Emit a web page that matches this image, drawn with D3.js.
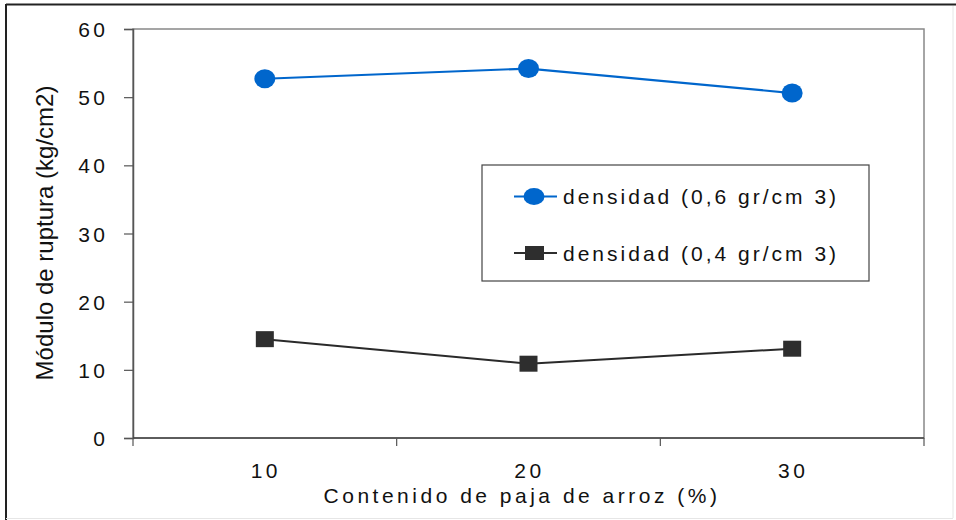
<!DOCTYPE html>
<html>
<head>
<meta charset="utf-8">
<script src="https://cdn.jsdelivr.net/npm/d3@7"></script>
<style>
  html, body { margin: 0; padding: 0; background: #fff; }
  svg { display: block; font-family: "Liberation Sans", Arial, sans-serif; }
</style>
</head>
<body>
<svg id="chart" width="956" height="520"></svg>
<script>
const categories = ["10", "20", "30"];
const seriesNames = ["densidad (0,6 gr/cm 3)", "densidad (0,4 gr/cm 3)"];
const highDensity = [52.7, 54.2, 50.6];
const lowDensity = [14.5, 10.9, 13.1];
const yTicks = [0, 10, 20, 30, 40, 50, 60];
const yTitle = "Módulo de ruptura (kg/cm2)";
const xTitle = "Contenido de paja de arroz (%)";

const svg = d3.select("#chart");
const m = { left: 133, top: 29, right: 924, bottom: 438 };
const FONT = "Liberation Sans, Arial, sans-serif";

// outer frame
svg.append("line").attr("x1", 6).attr("y1", 4.5).attr("x2", 956).attr("y2", 4.5).attr("stroke", "#222").attr("stroke-width", 2);
svg.append("line").attr("x1", 6).attr("y1", 4).attr("x2", 6).attr("y2", 520).attr("stroke", "#222").attr("stroke-width", 2);
svg.append("line").attr("x1", 953).attr("y1", 6).attr("x2", 953).attr("y2", 518).attr("stroke", "#e6e6e6").attr("stroke-width", 1);
svg.append("line").attr("x1", 6).attr("y1", 518.5).attr("x2", 953).attr("y2", 518.5).attr("stroke", "#e6e6e6").attr("stroke-width", 1);

const x = d3.scaleBand().domain(categories).range([m.left, m.right]).padding(0);
const y = d3.scaleLinear().domain([0, 60]).range([m.bottom, m.top]);

// plot area border
svg.append("rect").attr("x", m.left).attr("y", m.top).attr("width", m.right - m.left).attr("height", m.bottom - m.top)
  .attr("fill", "none").attr("stroke", "#888").attr("stroke-width", 1.5);

// y axis
const yAxis = svg.append("g").attr("transform", `translate(${m.left},0)`)
  .call(d3.axisLeft(y).tickValues(yTicks).tickSize(9).tickPadding(15.5).tickFormat(d3.format("d")));
yAxis.attr("font-size", 21).attr("font-family", FONT);
yAxis.select(".domain").attr("stroke", "#555").attr("stroke-width", 1.5);
yAxis.selectAll(".tick line").attr("stroke", "#555").attr("stroke-width", 1.2);
yAxis.selectAll(".tick text").attr("font-size", 21).attr("fill", "#111").attr("letter-spacing", 3.5).attr("dy", "0.36em");

// x axis with ticks at category boundaries
const boundaries = categories.map(c => x(c)).concat([x(categories[categories.length - 1]) + x.bandwidth()]);
const xAxisG = svg.append("g").attr("transform", `translate(0,${m.bottom})`);
xAxisG.append("line").attr("x1", m.left).attr("x2", m.right).attr("stroke", "#444").attr("stroke-width", 1.5);
xAxisG.selectAll("line.tk").data(boundaries).enter().append("line").attr("class", "tk")
  .attr("x1", d => d).attr("x2", d => d).attr("y1", 0).attr("y2", 8).attr("stroke", "#555").attr("stroke-width", 1.2);
xAxisG.selectAll("text").data(categories).enter().append("text")
  .attr("x", d => x(d) + x.bandwidth() / 2 + 1).attr("y", 40)
  .attr("text-anchor", "middle").attr("font-size", 21).attr("letter-spacing", 3.5).attr("fill", "#111").text(d => d);

// titles
svg.append("text").attr("x", 522).attr("y", 503).attr("text-anchor", "middle")
  .attr("font-size", 21).attr("letter-spacing", 3.5).attr("fill", "#111").text(xTitle);
svg.append("text").attr("transform", `translate(53,${233}) rotate(-90)`).attr("text-anchor", "middle")
  .attr("font-size", 24).attr("fill", "#111").text(yTitle);

const cx = d => x(d) + x.bandwidth() / 2;
const line = d3.line().x((d, i) => cx(categories[i])).y(d => y(d));

// high density series
svg.append("path").datum(highDensity).attr("d", line).attr("fill", "none").attr("stroke", "#0066cc").attr("stroke-width", 2.2);
svg.selectAll("ellipse.hi").data(highDensity).enter().append("ellipse").attr("class", "hi")
  .attr("cx", (d, i) => cx(categories[i])).attr("cy", d => y(d)).attr("rx", 10.5).attr("ry", 9.5).attr("fill", "#0066cc");

// low density series
svg.append("path").datum(lowDensity).attr("d", line).attr("fill", "none").attr("stroke", "#2a2a2a").attr("stroke-width", 2);
svg.selectAll("rect.lo").data(lowDensity).enter().append("rect").attr("class", "lo")
  .attr("x", (d, i) => cx(categories[i]) - 9).attr("y", d => y(d) - 8).attr("width", 18).attr("height", 16).attr("fill", "#2e2e2e");

// legend
const lg = svg.append("g");
lg.append("rect").attr("x", 482).attr("y", 165).attr("width", 387).attr("height", 116)
  .attr("fill", "#fff").attr("stroke", "#444").attr("stroke-width", 1.2);
const legendRows = [
  { name: seriesNames[0], color: "#0066cc", shape: "circle", yy: 196.5 },
  { name: seriesNames[1], color: "#2e2e2e", shape: "square", yy: 253 }
];
legendRows.forEach(r => {
  lg.append("line").attr("x1", 514).attr("x2", 557).attr("y1", r.yy).attr("y2", r.yy).attr("stroke", r.color).attr("stroke-width", 2);
  if (r.shape === "circle") {
    lg.append("ellipse").attr("cx", 534).attr("cy", r.yy).attr("rx", 10.5).attr("ry", 8.5).attr("fill", r.color);
  } else {
    lg.append("rect").attr("x", 525).attr("y", r.yy - 7).attr("width", 19).attr("height", 14).attr("fill", r.color);
  }
  lg.append("text").attr("x", 563).attr("y", r.yy + 7.5).attr("font-size", 21).attr("letter-spacing", 3.0)
    .attr("fill", "#111").text(r.name);
});
</script>
</body>
</html>
